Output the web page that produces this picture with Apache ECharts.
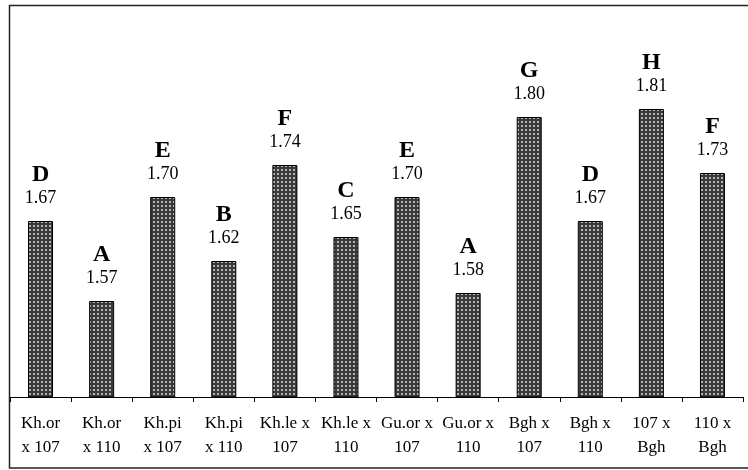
<!DOCTYPE html>
<html>
<head>
<meta charset="utf-8">
<script src="https://cdn.jsdelivr.net/npm/echarts@6/dist/echarts.min.js"></script>
<style>
  html, body { margin: 0; padding: 0; background: #fff; }
  #box1 { width: 748px; height: 470px; }
</style>
</head>
<body>
<div id="box1"></div>
<script>
// data
var crosses = ['Kh.or\nx 107', 'Kh.or\nx 110', 'Kh.pi\nx 107', 'Kh.pi\nx 110', 'Kh.le x\n107', 'Kh.le x\n110',
  'Gu.or x\n107', 'Gu.or x\n110', 'Bgh x\n107', 'Bgh x\n110', '107 x\nBgh', '110 x\nBgh'];
var values = [1.67, 1.57, 1.70, 1.62, 1.74, 1.65, 1.70, 1.58, 1.80, 1.67, 1.81, 1.73];
var groups = ['D', 'A', 'E', 'B', 'F', 'C', 'E', 'A', 'G', 'D', 'H', 'F'];

// dotted fill like the old office chart
var pat = document.createElement('canvas');
pat.width = 4; pat.height = 4;
var ctx = pat.getContext('2d');
ctx.fillStyle = '#3a3a3a';
ctx.fillRect(0, 0, 4, 4);
ctx.fillStyle = '#b4b4b4';
ctx.fillRect(1, 1, 2, 2);

var chart = echarts.init(document.getElementById('box1'));

var option = {
  animation: false,
  textStyle: { fontFamily: 'Liberation Serif' },
  graphic: [{
    type: 'rect',
    shape: { x: 9.5, y: 5.5, width: 760, height: 462.5 },
    style: { fill: 'none', stroke: '#222', lineWidth: 1.5 },
    silent: true
  }],
  grid: { left: 10, right: 5, top: 37, bottom: 73 },
  xAxis: {
    type: 'category',
    data: crosses,
    axisLine: { lineStyle: { color: '#000', width: 1 } },
    axisTick: { show: true, length: 5, lineStyle: { color: '#000' } },
    axisLabel: {
      interval: 0,
      margin: 15,
      color: '#000',
      fontSize: 17,
      lineHeight: 24,
      fontFamily: 'Liberation Serif'
    }
  },
  yAxis: {
    type: 'value',
    min: 1.45,
    max: 1.9,
    show: false,
    splitLine: { show: false }
  },
  series: [{
    type: 'bar',
    barWidth: 25,
    data: values,
    itemStyle: {
      color: { image: pat, repeat: 'repeat' },
      borderColor: '#000',
      borderWidth: 1
    },
    label: {
      show: true,
      position: 'top',
      distance: 12,
      formatter: function (p) {
        return '{g|' + groups[p.dataIndex] + '}\n{v|' + p.value.toFixed(2) + '}';
      },
      rich: {
        g: { fontSize: 24, fontWeight: 'bold', lineHeight: 24, color: '#000', fontFamily: 'Liberation Serif' },
        v: { fontSize: 18, lineHeight: 22, color: '#000', fontFamily: 'Liberation Serif' }
      }
    }
  }]
};

chart.setOption(option);
</script>
</body>
</html>
